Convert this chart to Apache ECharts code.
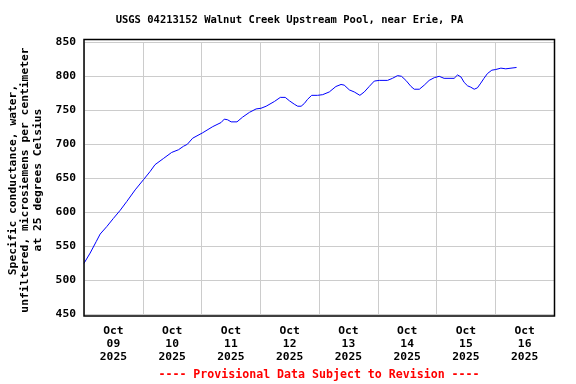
<!DOCTYPE html>
<html>
<head>
<meta charset="utf-8">
<script src="https://cdn.jsdelivr.net/npm/echarts@6/dist/echarts.min.js"></script>
<style>html,body{margin:0;padding:0;background:#fff}#c{width:576px;height:384px}</style>
</head>
<body>
<div id="c"></div>
<script>
// hours since Oct 09 2025 00:00
var hours = [0, 2.5, 5.0, 6.6, 9.3, 12.0, 14.8, 17.5, 20.9, 24.3, 27.0, 29.0, 32.4, 35.8, 38.6, 40.6, 42.2, 44.4, 45.1, 48.5, 52.6, 56.0, 57.3, 58.7, 60.1, 62.5, 64.8, 67.6, 70.3, 72.3, 74.4, 77.8, 80.2, 82.2, 83.9, 85.9, 87.3, 88.7, 90.0, 91.3, 93.0, 95.4, 97.5, 100.2, 102.9, 105.0, 106.3, 108.4, 110.4, 112.7, 114.5, 116.5, 118.6, 120.6, 124.0, 126.0, 128.1, 129.7, 131.5, 133.6, 134.9, 137.0, 139.0, 141.0, 143.1, 145.1, 147.1, 151.2, 152.6, 154.0, 155.3, 156.7, 158.0, 159.4, 160.7, 162.1, 163.4, 164.8, 166.6, 168.2, 170.3, 172.3, 176.7];
var conductance = [525, 540, 557, 568, 579, 591, 603, 616, 633, 648, 660, 670, 679, 688, 692, 697, 700, 709, 711, 717, 726, 732, 737, 736, 733, 733, 740, 747, 752, 753, 756, 763, 769, 769, 764, 759, 756, 756, 760, 766, 772, 772, 773, 777, 785, 788, 787, 780, 777, 772, 777, 785, 793, 794, 794, 797, 801, 800, 794, 785, 781, 781, 787, 794, 798, 800, 797, 797, 802, 799, 791, 786, 784, 781, 783, 790, 797, 804, 809, 810, 812, 811, 813];
var dayLabels = ['09', '10', '11', '12', '13', '14', '15', '16'];
var monthLabel = 'Oct';
var yearLabel = '2025';
var yTicks = [450, 850, 50]; // min, max, step
var titleText = 'USGS 04213152 Walnut Creek Upstream Pool, near Erie, PA';
var yName = 'Specific conductance, water,\nunfiltered, microsiemens per centimeter\nat 25 degrees Celsius';
var footText = '---- Provisional Data Subject to Revision ----';

var FONT = '"DejaVu Sans Mono", "Liberation Mono", monospace';
var data = hours.map(function (h, i) { return [h, conductance[i]]; });

var chart = echarts.init(document.getElementById('c'), null, {renderer: 'canvas'});
chart.setOption({
  animation: false,
  backgroundColor: '#ffffff',
  grid: {left: 84, right: 22, top: 42.3, bottom: 69.7, containLabel: false},
  xAxis: [{
    type: 'value', min: 0, max: 192, interval: 24,
    axisLine: {show: false}, axisTick: {show: false}, axisLabel: {show: false},
    splitLine: {show: true, lineStyle: {color: '#cccccc', width: 1}}
  }, {
    type: 'value', min: 0, max: 192, interval: 12, position: 'bottom',
    axisLine: {show: false}, axisTick: {show: false}, splitLine: {show: false},
    axisLabel: {
      show: true, margin: 10, color: '#000', fontFamily: FONT, fontWeight: 'bold',
      fontSize: 11.3, lineHeight: 13,
      formatter: function (v) {
        if (v % 24 !== 12) return '';
        var d = Math.floor(v / 24);
        return monthLabel + '\n' + dayLabels[d] + '\n' + yearLabel;
      }
    }
  }],
  yAxis: {
    type: 'value', min: yTicks[0], max: yTicks[1], interval: yTicks[2],
    axisLine: {show: false}, axisTick: {show: false},
    axisLabel: {margin: 8, color: '#000', fontFamily: FONT, fontWeight: 'bold', fontSize: 11.3},
    splitLine: {show: true, lineStyle: {color: '#cccccc', width: 1}}
  },
  series: [{
    type: 'line', xAxisIndex: 0, data: data, showSymbol: false, symbol: 'none',
    lineStyle: {color: '#0000ff', width: 1}, z: 3
  }],
  graphic: [
    {type: 'rect', shape: {x: 84, y: 39.5, width: 470.5, height: 276.5}, style: {fill: null, stroke: '#000', lineWidth: 1.5}, z: 100, silent: true},
    {type: 'text', x: 289.5, y: 20.5, style: {text: titleText, font: 'bold 10.5px ' + FONT, fill: '#000', align: 'center', verticalAlign: 'middle'}},
    {type: 'text', x: 25.5, y: 180, rotation: Math.PI / 2, style: {text: yName, font: 'bold 11.3px ' + FONT, lineHeight: 12.4, fill: '#000', align: 'center', verticalAlign: 'middle'}},
    {type: 'text', x: 319, y: 375, style: {text: footText, font: 'bold 11.6px ' + FONT, fill: '#ff0000', align: 'center', verticalAlign: 'middle'}}
  ]
});
</script>
</body>
</html>
